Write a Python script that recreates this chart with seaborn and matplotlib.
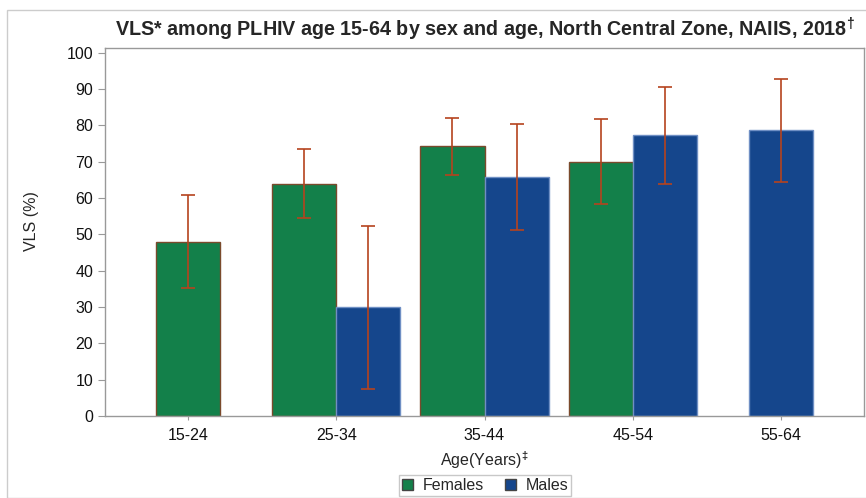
import numpy as np
import pandas as pd
import seaborn as sns
from matplotlib import pyplot as plt
from matplotlib.patches import Rectangle

ages = ['15-24', '25-34', '35-44', '45-54', '55-64']
sexes = ['Females', 'Males']
fem_vls = [48.0, 64.0, 74.2, 69.9, np.nan]
fem_lo = [35.3, 54.5, 66.4, 58.3, np.nan]
fem_hi = [60.9, 73.6, 82.1, 81.7, np.nan]
male_vls = [np.nan, 30.0, 65.9, 77.3, 78.6]
male_lo = [np.nan, 7.5, 51.1, 63.9, 64.3]
male_hi = [np.nan, 52.4, 80.5, 90.7, 92.8]

colors = {'Females': '#13804A', 'Males': '#15468C'}
edges = {'Females': '#7A4A2C', 'Males': '#6F8FC4'}
err_color = '#B5431E'

rows = []
for i, age in enumerate(ages):
    for sex, v, lo, hi in [('Females', fem_vls[i], fem_lo[i], fem_hi[i]),
                           ('Males', male_vls[i], male_lo[i], male_hi[i])]:
        if not np.isnan(v):
            rows.append(dict(age=age, idx=i, sex=sex, vls=v, lo=lo, hi=hi))
df = pd.DataFrame(rows)

# SAS style: bars of a group sit side by side, a lone bar is centred on the tick
bar_w = 0.432
df['n'] = df.groupby('idx')['sex'].transform('count')
df['j'] = df.groupby('idx').cumcount()
df['pos'] = df['idx'] + (df['j'] - (df['n'] - 1) / 2) * bar_w

sns.set_style('ticks')
plt.rcParams['font.family'] = ['Liberation Sans', 'DejaVu Sans']
plt.rcParams['mathtext.fontset'] = 'custom'
plt.rcParams['mathtext.rm'] = 'Liberation Sans:bold'
plt.rcParams['mathtext.bf'] = 'Liberation Sans:bold'

fig = plt.figure(figsize=(8.66, 4.98), dpi=100)
ax = fig.add_axes([105 / 866, 1 - 416 / 498, 759 / 866, 368 / 498])

sns.barplot(data=df, x='pos', y='vls', hue='sex', hue_order=sexes,
            palette=colors, saturation=1, native_scale=True, dodge=False, width=1.0,
            errorbar=None, linewidth=1.0, ax=ax)
for cont, sex in zip(ax.containers, sexes):
    for p in cont:
        p.set_edgecolor(edges[sex])

ax.errorbar(df['pos'], df['vls'], yerr=[df['vls'] - df['lo'], df['hi'] - df['vls']],
            fmt='none', ecolor=err_color, elinewidth=1.2, capsize=4.7, capthick=1.2)

ax.set_xlim(-0.56, 4.56)
ax.set_ylim(0, 101.3)
ax.set_xticks(range(len(ages)), ages)
ax.set_yticks(range(0, 101, 10))
ax.tick_params(axis='y', length=5, color='#999999', labelsize=11.5, colors='#111111')
ax.tick_params(axis='x', length=3, color='#999999', labelsize=11.5, colors='#111111', pad=6)
for s in ax.spines.values():
    s.set_visible(True)
    s.set_color('#999999')
    s.set_linewidth(1.0)

ax.set_ylabel('VLS (%)', fontsize=11.5)
ax.yaxis.set_label_coords(-0.087, 0.53)
ax.set_xlabel('Age(Years)$^{\\ddag}$', fontsize=11.5, labelpad=4)
ax.set_title('VLS* among PLHIV age 15-64 by sex and age, North Central Zone, NAIIS, 2018$^{\\dag}$',
             fontsize=14.2, fontweight='bold', pad=8)

handles, labels = ax.get_legend_handles_labels()
ax.get_legend().remove()
for h in handles:
    h.set_edgecolor('#444444')
fig.legend(handles, labels, loc='center', bbox_to_anchor=(485 / 866, 1 - 485.5 / 498),
           ncol=2, fontsize=11.5, frameon=True, fancybox=False, edgecolor='#bbbbbb',
           handlelength=0.7, handleheight=0.7, handletextpad=0.6, columnspacing=1.3,
           borderpad=0.2)

fig.patches.append(Rectangle((7 / 866, 0), 1, 1 - 10 / 498, transform=fig.transFigure,
                             fill=False, edgecolor='#cccccc', linewidth=1.0))

fig.savefig('out.png', dpi=100)
